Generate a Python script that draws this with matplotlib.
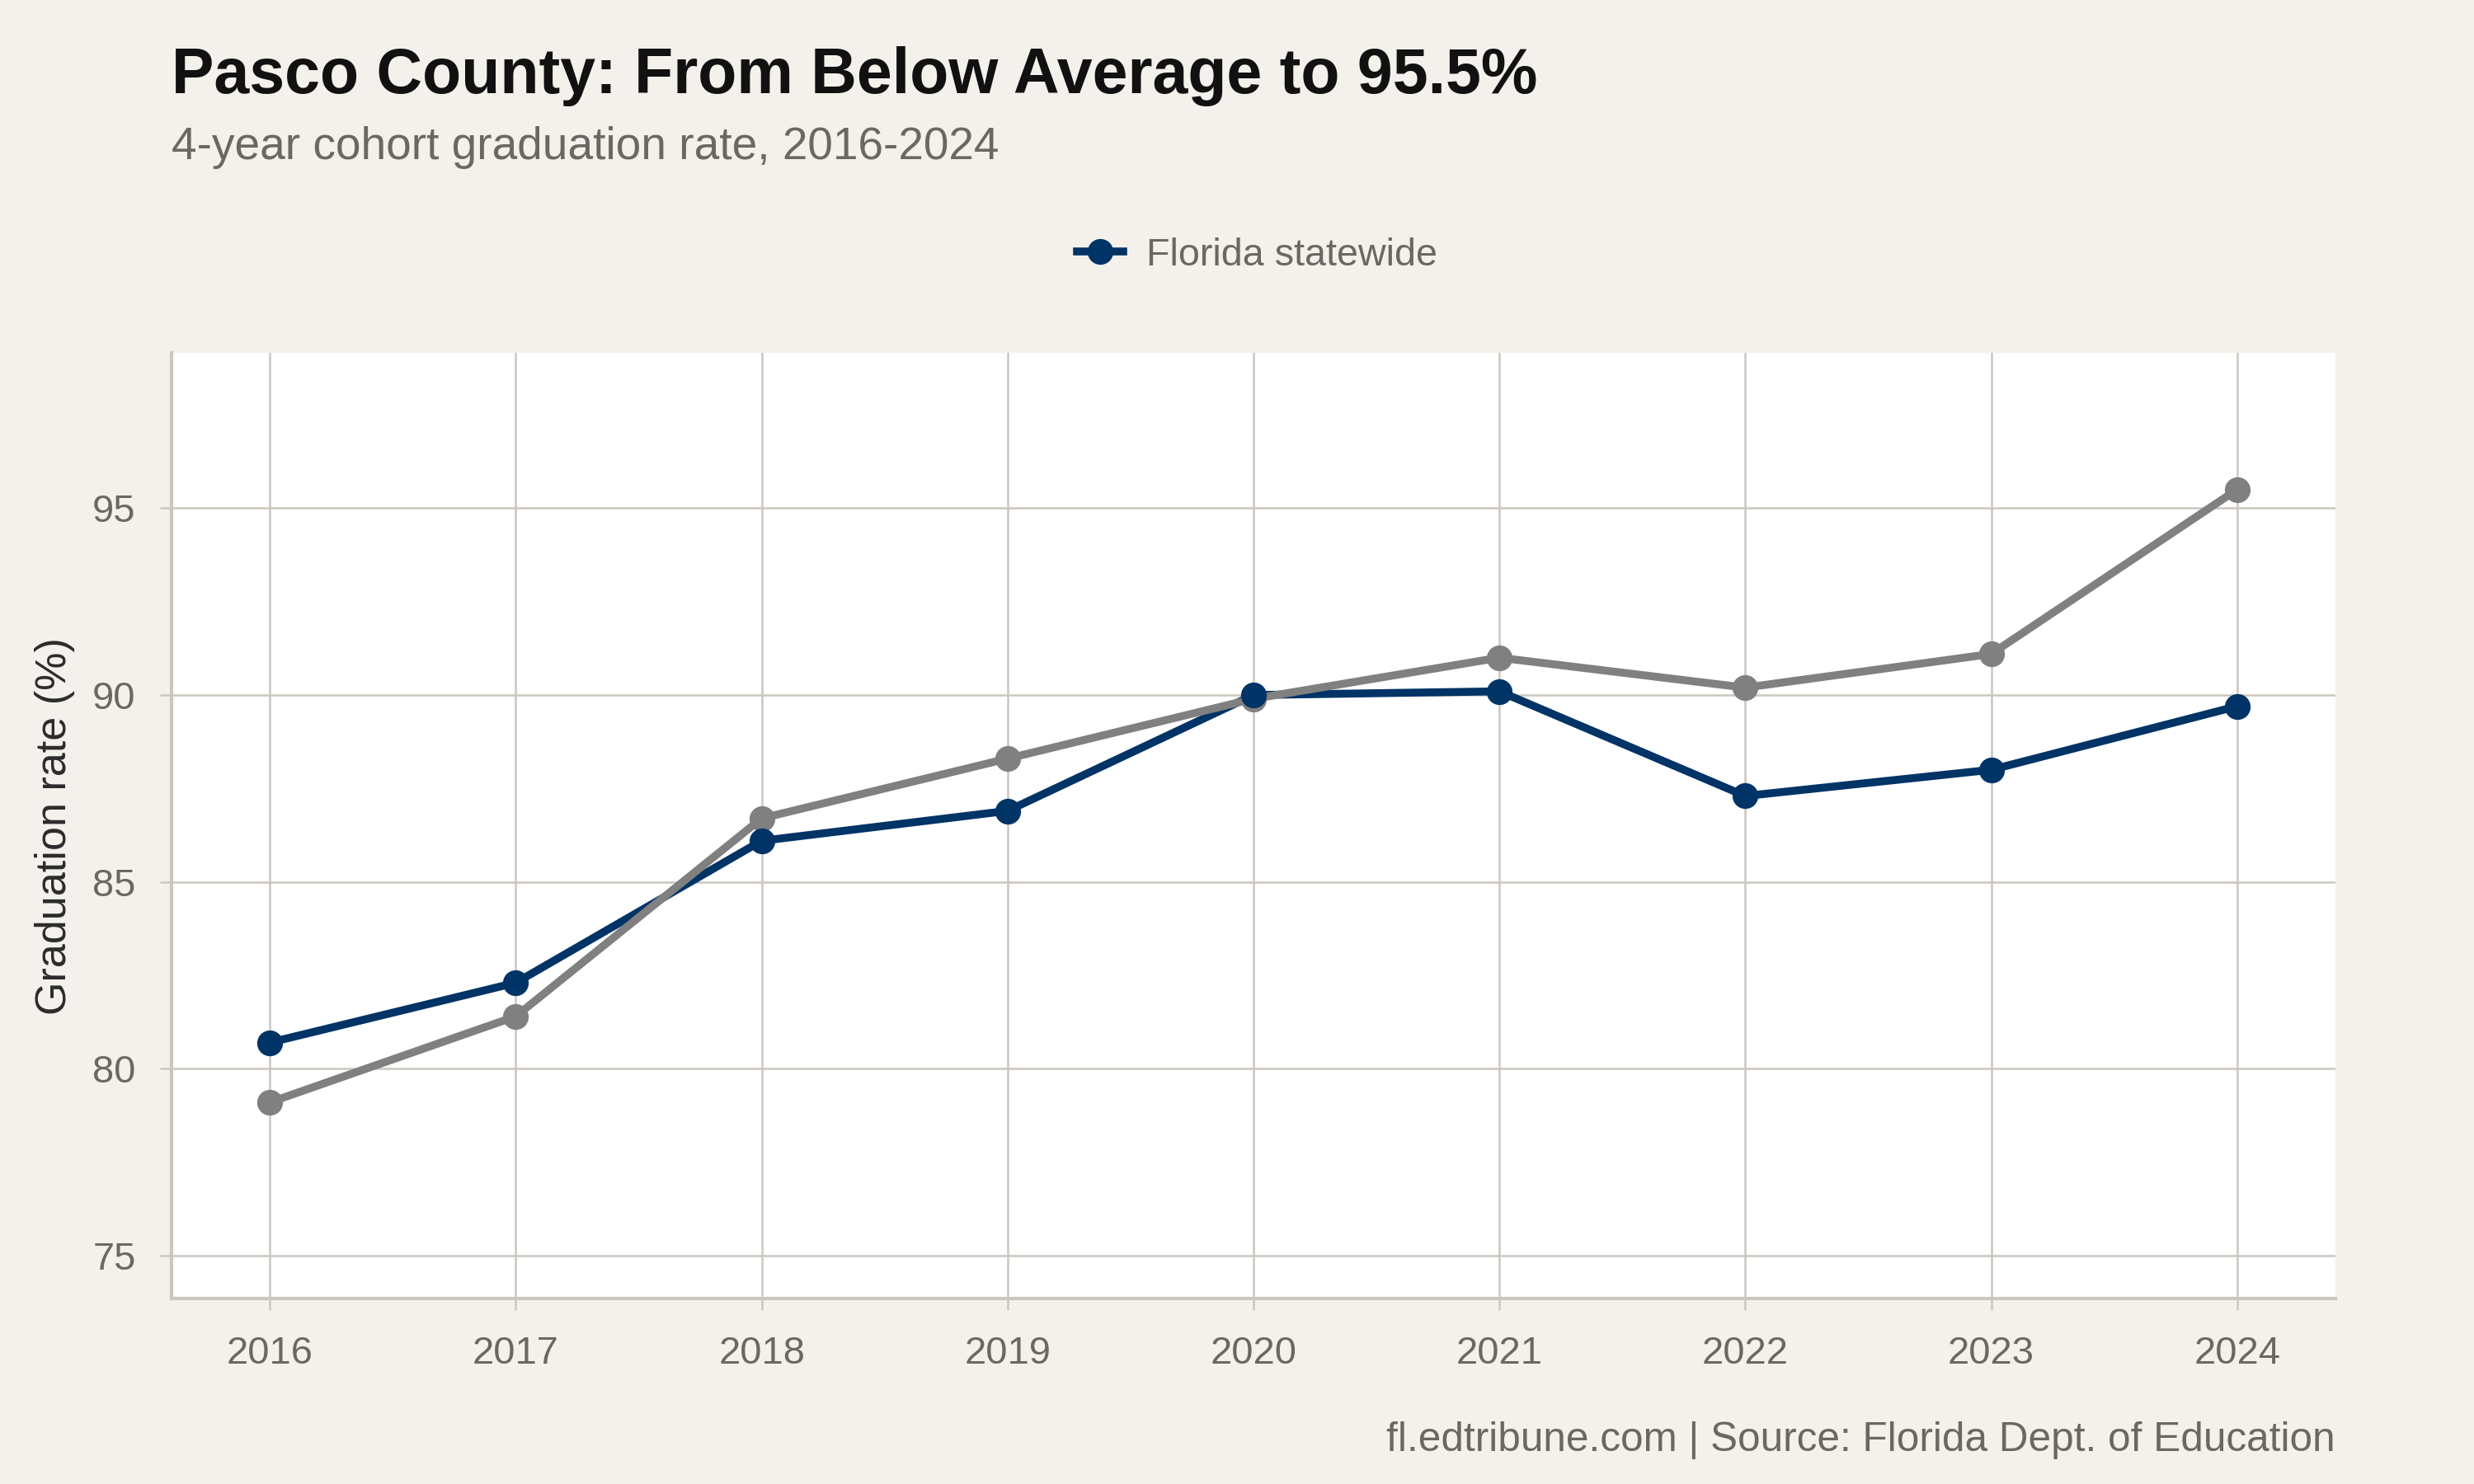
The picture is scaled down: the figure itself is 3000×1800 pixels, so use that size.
import numpy as np
import matplotlib
matplotlib.use("Agg")
import matplotlib.pyplot as plt
from matplotlib.lines import Line2D

plt.rcParams["font.family"] = ["Liberation Sans", "DejaVu Sans"]

years = [2016, 2017, 2018, 2019, 2020, 2021, 2022, 2023, 2024]
florida = [80.7, 82.3, 86.1, 86.9, 90.0, 90.1, 87.3, 88.0, 89.7]
pasco = [79.1, 81.4, 86.7, 88.3, 89.9, 91.0, 90.2, 91.1, 95.5]
y_ticks = [75, 80, 85, 90, 95]

BG = "#f4f1ec"
NAVY = "#003366"
GRAY = "#808080"
GRID = "#cbc6be"
TXT = "#6b6863"

fig = plt.figure(figsize=(10, 6), dpi=300, facecolor=BG)
ax = fig.add_axes([0.0693, 0.125, 0.8747, 0.637])
ax.set_facecolor("white")

ax.plot(years, florida, color=NAVY, lw=2.3, zorder=3)
ax.plot(years, pasco, color=GRAY, lw=2.3, zorder=3)
ax.plot(years, pasco, "o", color=GRAY, ms=6.5, zorder=4)
ax.plot(years, florida, "o", color=NAVY, ms=6.5, zorder=5)

ax.set_xlim(2015.6, 2024.4)
ax.set_ylim(73.85, 99.15)
ax.set_xticks(years)
ax.set_xticklabels([str(y) for y in years])
ax.set_yticks(y_ticks)

ax.grid(True, color=GRID, lw=0.6, zorder=0)
ax.set_axisbelow(True)
for s in ["top", "right"]:
    ax.spines[s].set_visible(False)
for s in ["left", "bottom"]:
    ax.spines[s].set_color(GRID)
    ax.spines[s].set_linewidth(1.0)
ax.tick_params(axis="both", colors=GRID, length=3.4, width=0.6,
               labelcolor=TXT, labelsize=11.3)
ax.tick_params(axis="x", pad=7.5)
ax.tick_params(axis="y", pad=7)
ax.set_ylabel("Graduation rate (%)", fontsize=12.5, color="#2b2b2b", labelpad=5)

handle = Line2D([], [], color=NAVY, lw=2.3, marker="o", ms=6.5)
fig.legend([handle], ["Florida statewide"], loc="center",
           bbox_to_anchor=(0.508, 0.828), frameon=False, fontsize=11.2,
           labelcolor=TXT, handlelength=1.2, handletextpad=0.6)

fig.text(0.0693, 0.937, "Pasco County: From Below Average to 95.5%",
         fontsize=18.5, fontweight="bold", color="#111111", ha="left", va="baseline")
fig.text(0.0693, 0.893, "4-year cohort graduation rate, 2016-2024",
         fontsize=13.2, color=TXT, ha="left", va="baseline")
fig.text(0.944, 0.022, "fl.edtribune.com | Source: Florida Dept. of Education",
         fontsize=11.9, color=TXT, ha="right", va="baseline")

fig.savefig("out.png", dpi=300, facecolor=BG)
